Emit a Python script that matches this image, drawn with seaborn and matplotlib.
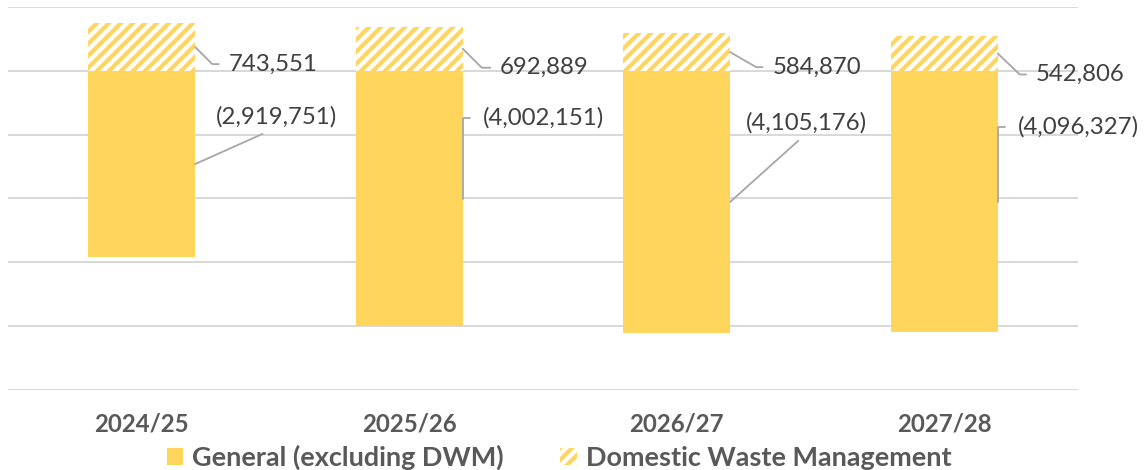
import math
import numpy as np
import pandas as pd
import matplotlib
matplotlib.use("Agg")
import matplotlib.pyplot as plt
from matplotlib.patches import Patch
import seaborn as sns

# ---- data ----
years = ["2024/25", "2025/26", "2026/27", "2027/28"]
general = [-2919751, -4002151, -4105176, -4096327]
dwm = [743551, 692889, 584870, 542806]
series_names = ["General (excluding DWM)", "Domestic Waste Management"]

# ---- style ----
sns.set_theme(style="white")
plt.rcParams["font.family"] = ["Lato", "DejaVu Sans"]
plt.rcParams["hatch.linewidth"] = 2.1
YELLOW = "#FFD65B"
plt.rcParams["hatch.color"] = YELLOW
LABEL_C = "#404040"
AXIS_C = "#595959"
LEADER_C = "#A6A6A6"
HATCH = "////"

DPI = 144
fig = plt.figure(figsize=(1148 / DPI, 470 / DPI), dpi=DPI)
ax = fig.add_axes([8 / 1148, 1 - 390 / 470, 1070 / 1148, (390 - 7) / 470])

df = pd.DataFrame({"year": years, "general": general, "dwm": dwm})

sns.barplot(data=df, x="year", y="general", color=YELLOW, saturation=1,
            width=0.4, ax=ax, zorder=2, linewidth=0)
n_gen = len(ax.patches)
sns.barplot(data=df, x="year", y="dwm", color="white", saturation=1,
            width=0.4, ax=ax, zorder=2, linewidth=0)
for p in ax.patches[n_gen:]:
    p.set_facecolor("white")
    p.set_edgecolor(YELLOW)
    p.set_hatch(HATCH)
    p.set_linewidth(0)

ax.set_ylim(-5e6, 1e6)
ax.set_xlim(-0.5, len(years) - 0.5)
ax.set_yticks(np.arange(-5e6, 1.01e6, 1e6))
ax.set_yticklabels([])
ax.grid(axis="y", color="#D9D9D9", linewidth=1.0, zorder=0)
ax.grid(axis="x", visible=False)
ax.set_axisbelow(True)
for s in ax.spines.values():
    s.set_visible(False)
ax.set_xlabel("")
ax.set_ylabel("")
ax.tick_params(axis="both", length=0)
ax.tick_params(axis="x", pad=11, labelsize=12, labelcolor=AXIS_C)
for t in ax.get_xticklabels():
    t.set_fontweight("bold")

half = 0.2
PX = 72 / DPI  # points per pixel
LFS = 12


def elbow_label(x, y, text, dx, dy, hlen, gap=5):
    """label to the right with horizontal shoulder then line to the bar"""
    cx, cy = dx - gap - hlen, -dy  # corner offset from xy in display px (y up)
    angB = math.degrees(math.atan2(cy, cx)) if abs(cx) > 0.5 else 90
    ax.annotate(text, xy=(x, y), xytext=(dx * PX, -dy * PX), textcoords="offset points",
                ha="left", va="center", fontsize=LFS, color=LABEL_C,
                arrowprops=dict(arrowstyle="-", color=LEADER_C, lw=0.9,
                                relpos=(0, 0.5), shrinkA=gap * PX, shrinkB=0,
                                connectionstyle=f"angle,angleA=0,angleB={angB},rad=0"))


def straight_label(x, y, text, dx, dy):
    ax.annotate(text, xy=(x, y), xytext=(dx * PX, -dy * PX), textcoords="offset points",
                ha="center", va="center", fontsize=LFS, color=LABEL_C,
                arrowprops=dict(arrowstyle="-", color=LEADER_C, lw=0.9,
                                relpos=(0.5, 0), shrinkA=2, shrinkB=0,
                                connectionstyle="arc3,rad=0"))


def fmt(v):
    return f"({abs(v):,})" if v < 0 else f"{v:,}"


# DWM labels (dx, dy in px; dy positive = down)
dwm_off = [(33, 17, 11), (37, 19, 13), (42, 15, 11), (38, 21, 11)]
for i, v in enumerate(dwm):
    dx, dy, hl = dwm_off[i]
    elbow_label(i + half, v / 2, fmt(v), dx, dy, hl)

# General labels
for i, v in enumerate(general):
    if i in (0, 2):
        dxy = {0: (81, -47), 2: (76, -79)}[i]
        straight_label(i + half, v / 2, fmt(v), *dxy)
    else:
        dxy = {1: (20, -81), 3: (20, -75)}[i]
        elbow_label(i + half, v / 2, fmt(v), dxy[0], dxy[1], dxy[0] - 8, gap=8)

handles = [Patch(facecolor=YELLOW, edgecolor=YELLOW, linewidth=0),
           Patch(facecolor="white", edgecolor=YELLOW, hatch=HATCH, linewidth=0)]
leg = fig.legend(handles, series_names, loc="center", bbox_to_anchor=(0.487, 0.027),
                 ncol=2, frameon=False, handlelength=0.6, handleheight=0.6,
                 handletextpad=0.33, columnspacing=2.1,
                 prop={"weight": "bold", "size": 13.5})
for t in leg.get_texts():
    t.set_color(AXIS_C)

fig.savefig("out.png", dpi=DPI)
